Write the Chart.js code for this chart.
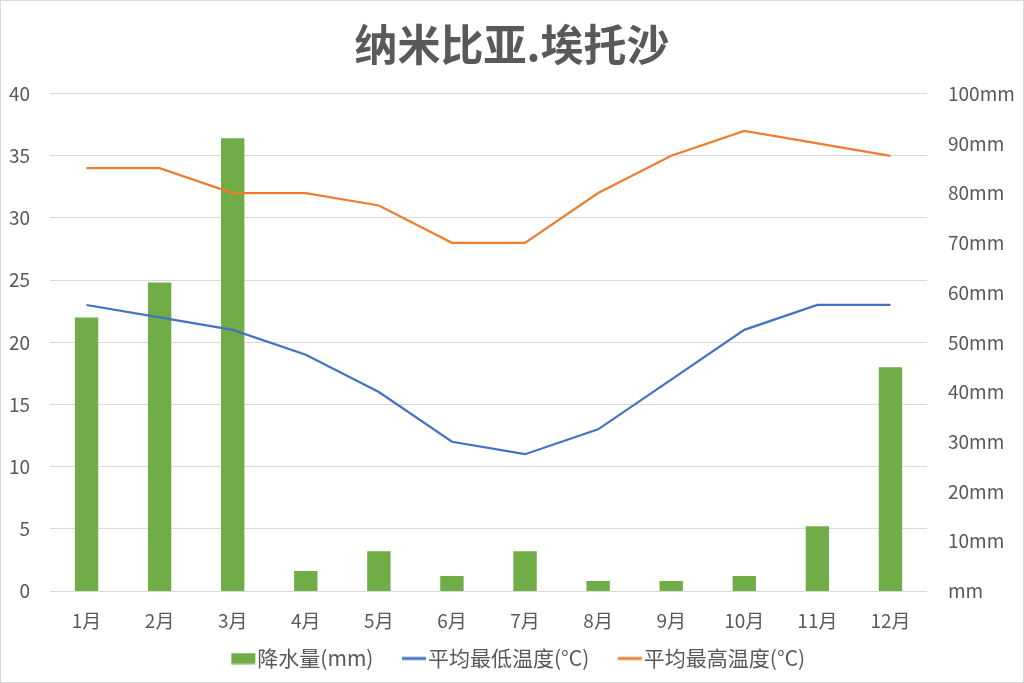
<!DOCTYPE html>
<html>
<head>
<meta charset="utf-8">
<script src="https://cdn.jsdelivr.net/npm/chart.js@4/dist/chart.umd.min.js"></script>
<style>
  body { margin: 0; background: #fff; }
  #wrap { width: 1024px; height: 683px; box-sizing: border-box; border: 1px solid #d9d9d9; }
</style>
</head>
<body>
<div id="wrap"><canvas id="chart" width="1022" height="681"></canvas></div>
<script>
const meses = ['1月', '2月', '3月', '4月', '5月', '6月', '7月', '8月', '9月', '10月', '11月', '12月'];
const lluvia = [55, 62, 91, 4, 8, 3, 8, 2, 2, 3, 13, 45];
const tempMin = [23, 22, 21, 19, 16, 12, 11, 13, 17, 21, 23, 23];
const tempMax = [34, 34, 32, 32, 31, 28, 28, 32, 35, 37, 36, 35];

const fuente = '"Noto Sans CJK SC", "Noto Sans", sans-serif';
const gris = '#595959';
const verde = '#70AD47';
const azul = '#4472C4';
const naranja = '#ED7D31';

Chart.defaults.font.family = fuente;
Chart.defaults.color = gris;

// marcador de leyenda pegado al texto (como en Excel)
function marcador(color, alto) {
    const c = document.createElement('canvas');
    c.width = 47;
    c.height = 12;
    const g = c.getContext('2d');
    g.fillStyle = color;
    g.fillRect(22, (12 - alto) / 2, 24, alto);
    return c;
}

const ctx = document.getElementById('chart').getContext('2d');
new Chart(ctx, {
    type: 'bar',
    data: {
        labels: meses,
        datasets: [{
            type: 'bar',
            label: '降水量(mm)',
            data: lluvia,
            yAxisID: 'yR',
            backgroundColor: verde,
            barPercentage: 0.32,
            categoryPercentage: 1,
            pointStyle: marcador(verde, 11),
            order: 2
        }, {
            type: 'line',
            label: '平均最低温度(°C)',
            data: tempMin,
            yAxisID: 'yL',
            borderColor: azul,
            backgroundColor: azul,
            borderWidth: 2.25,
            pointRadius: 0,
            pointStyle: marcador(azul, 3),
            tension: 0,
            order: 1
        }, {
            type: 'line',
            label: '平均最高温度(°C)',
            data: tempMax,
            yAxisID: 'yL',
            borderColor: naranja,
            backgroundColor: naranja,
            borderWidth: 2.25,
            pointRadius: 0,
            pointStyle: marcador(naranja, 3),
            tension: 0,
            order: 1
        }]
    },
    options: {
        responsive: false,
        animation: false,
        layout: { padding: { bottom: 3 } },
        plugins: {
            title: {
                display: true,
                text: '纳米比亚.埃托沙',
                color: gris,
                font: { size: 43, weight: 'bold', family: fuente },
                padding: { top: 18, bottom: 23 }
            },
            legend: {
                position: 'bottom',
                labels: {
                    usePointStyle: true,
                    pointStyleWidth: 28,
                    padding: 16,
                    color: gris,
                    font: { size: 21 },
                    sort: (a, b) => a.datasetIndex - b.datasetIndex
                }
            },
            tooltip: { enabled: false }
        },
        scales: {
            x: {
                grid: { display: false },
                border: { display: false },
                ticks: { font: { size: 19 }, color: gris, padding: 10 },
                afterFit: s => { s.height = 41; }
            },
            yL: {
                position: 'left',
                min: 0,
                max: 40,
                ticks: { stepSize: 5, font: { size: 19 }, color: gris, padding: 20 },
                grid: { color: '#d9d9d9', drawTicks: false },
                border: { display: false },
                afterFit: s => { s.width = 49; }
            },
            yR: {
                position: 'right',
                min: 0,
                max: 100,
                ticks: {
                    stepSize: 10,
                    font: { size: 19 },
                    color: gris,
                    padding: 21,
                    callback: v => v === 0 ? 'mm' : v + 'mm'
                },
                grid: { display: false, drawTicks: false },
                border: { display: false },
                afterFit: s => { s.width = 96; }
            }
        }
    }
});
</script>
</body>
</html>
